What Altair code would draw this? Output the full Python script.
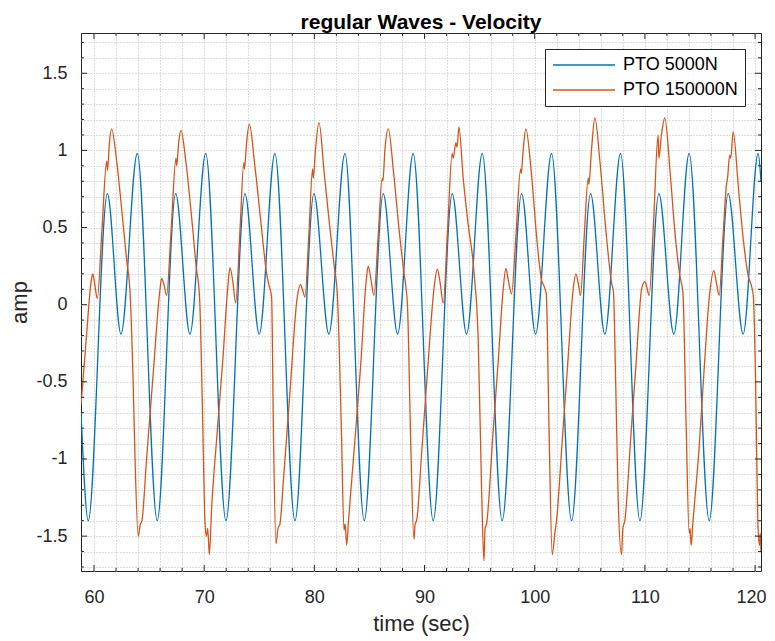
import altair as alt
import pandas as pd

# ---------------- data ----------------
series_names = ["PTO 5000N", "PTO 150000N"]
series_colors = ["#0072BD", "#D95319"]

blue_time = [58.82, 59.48,
             61.21, 62.45, 63.93, 65.74,
             67.41, 68.71, 70.14, 71.98,
             73.70, 75.00, 76.42, 78.24,
             79.96, 81.32, 82.78, 84.53,
             86.25, 87.56, 88.97, 90.79,
             92.51, 93.82, 95.24, 97.05,
             98.81, 100.08, 101.53, 103.35,
             105.07, 106.37, 107.79, 109.55,
             111.27, 112.63, 114.02, 115.84,
             117.56, 118.92, 120.28,
             120.54]
blue_amp = [-0.70, -1.40,
            0.72, -0.19, 0.98, -1.40,
            0.72, -0.19, 0.98, -1.40,
            0.72, -0.19, 0.98, -1.40,
            0.72, -0.19, 0.98, -1.40,
            0.72, -0.19, 0.98, -1.40,
            0.72, -0.19, 0.98, -1.40,
            0.72, -0.19, 0.98, -1.40,
            0.72, -0.19, 0.98, -1.40,
            0.72, -0.19, 0.98, -1.40,
            0.72, -0.19, 0.98,
            0.80]

orange_time = [
    58.82, 59.30, 59.72, 59.88, 60.05, 60.30,
    60.72, 61.15, 61.22, 61.40, 61.60, 62.06, 62.66, 63.05, 63.15, 63.27, 63.57, 63.72,
    64.02, 64.18, 64.35, 64.78, 65.38, 65.99, 66.14, 66.35, 66.59,
    67.00, 67.44, 67.50, 67.70, 67.89, 68.35, 68.95, 69.32, 69.45, 69.60, 69.85, 70.07,
    70.20, 70.32, 70.47, 70.68, 71.10, 71.70, 72.15, 72.34, 72.60, 72.86,
    73.25, 73.60, 73.66, 73.85, 74.10, 74.60, 75.20, 75.67, 75.90, 76.12, 76.30,
    76.52, 76.70, 76.88, 77.18, 77.80, 78.45, 78.75, 78.95, 79.15,
    79.50, 79.84, 79.90, 80.10, 80.42, 80.90, 81.42, 81.85, 82.08, 82.45, 82.69,
    82.80, 82.93, 83.10, 83.60, 84.20, 84.70, 84.89, 85.10, 85.41,
    85.80, 86.16, 86.22, 86.40, 86.71, 87.20, 87.70, 88.13, 88.30, 88.45, 88.75,
    89.04, 89.15, 89.28, 89.75, 90.30, 90.90, 91.16, 91.40, 91.70,
    92.10, 92.51, 92.60, 92.85, 92.95, 93.12, 93.51, 94.00, 94.42, 94.60, 94.73, 94.87,
    95.18, 95.39, 95.50, 95.63, 96.20, 96.70, 97.14, 97.39, 97.60, 97.90,
    98.30, 98.72, 98.78, 98.95, 99.20, 99.70, 100.20, 100.62, 100.85, 101.05, 101.30,
    101.59, 101.83, 101.98, 102.50, 103.00, 103.49, 103.74, 103.95, 104.16,
    104.50, 104.86, 104.92, 105.15, 105.46, 105.92, 106.50, 106.98, 107.15, 107.35, 107.58,
    107.88, 108.00, 108.18, 108.70, 109.20, 109.70, 110.00, 110.15, 110.39,
    110.80, 111.20, 111.27, 111.50, 111.81, 112.30, 112.75, 113.17, 113.45, 113.75, 114.02,
    114.10, 114.20, 114.35, 114.90, 115.35, 115.85, 116.26, 116.50, 116.74,
    117.10, 117.41, 117.50, 117.70, 117.80, 118.01, 118.50, 119.00, 119.40, 119.68, 119.85,
    120.05, 120.25, 120.40, 120.47, 120.54]
orange_amp = [
    -0.65, -0.22, 0.14, 0.20, 0.14, 0.04,
    0.48, 0.93, 0.87, 1.05, 1.14, 0.93, 0.51, 0.24, 0.19, 0.08, -0.55, -0.99,
    -1.50, -1.43, -1.40, -0.99, -0.44, 0.10, 0.17, 0.13, 0.06,
    0.48, 0.95, 0.90, 1.06, 1.13, 0.92, 0.50, 0.22, 0.16, 0.02, -0.70, -1.40,
    -1.50, -1.45, -1.62, -1.31, -0.90, -0.35, 0.12, 0.24, 0.15, 0.01,
    0.48, 0.92, 0.88, 1.05, 1.17, 0.90, 0.50, 0.20, 0.12, 0.05, -0.90,
    -1.55, -1.45, -1.42, -1.15, -0.55, 0.05, 0.13, 0.09, 0.05,
    0.45, 0.88, 0.82, 1.00, 1.18, 0.85, 0.49, 0.22, 0.08, -0.80, -1.46,
    -1.42, -1.56, -1.40, -0.95, -0.40, 0.15, 0.25, 0.18, 0.06,
    0.45, 0.82, 0.80, 1.00, 1.14, 0.85, 0.48, 0.21, 0.12, 0.00, -0.90,
    -1.52, -1.42, -1.40, -0.95, -0.40, 0.13, 0.23, 0.15, 0.01,
    0.50, 0.98, 0.95, 1.05, 1.02, 1.15, 0.82, 0.50, 0.27, 0.12, 0.00, -0.22,
    -1.20, -1.66, -1.45, -1.42, -0.85, -0.35, 0.10, 0.235, 0.16, 0.07,
    0.45, 0.88, 0.85, 1.00, 1.14, 0.85, 0.42, 0.16, 0.12, 0.07, -0.80,
    -1.62, -1.48, -1.40, -0.88, -0.38, 0.10, 0.20, 0.14, 0.06,
    0.45, 0.82, 0.78, 1.00, 1.21, 0.93, 0.45, 0.14, 0.08, -0.50, -1.27,
    -1.62, -1.45, -1.40, -0.88, -0.38, 0.10, 0.15, 0.12, 0.06,
    0.55, 1.10, 0.95, 1.10, 1.21, 0.85, 0.45, 0.19, 0.08, -0.80, -1.48,
    -1.45, -1.56, -1.42, -0.95, -0.45, 0.05, 0.22, 0.14, 0.06,
    0.45, 0.78, 0.82, 0.97, 0.95, 1.12, 0.75, 0.38, 0.18, 0.12, 0.05,
    -0.50, -1.40, -1.56, -1.48, -1.60]

x_major_ticks = [60, 70, 80, 90, 100, 110, 120]
y_major_ticks = [-1.5, -1.0, -0.5, 0.0, 0.5, 1.0, 1.5]
x_grid_values = [60 + 2 * i for i in range(31)]                # minor grid every 2 s
y_grid_values = [round(-1.7 + 0.1 * i, 1) for i in range(35)]  # minor grid every 0.1
x_minor_ticks = [v for v in x_grid_values if v not in x_major_ticks]
y_minor_ticks = [v for v in y_grid_values if round(v * 2) != v * 2]

X_DOMAIN = [58.82, 120.54]
Y_DOMAIN = [-1.726, 1.761]

# ---------------- build tables ----------------
df = pd.concat([
    pd.DataFrame({"time": blue_time, "amp": blue_amp, "series": series_names[0]}),
    pd.DataFrame({"time": orange_time, "amp": orange_amp, "series": series_names[1]}),
], ignore_index=True)

W, H = 680, 538
FONT = "Liberation Sans"
AX = "#262626"

xscale = alt.Scale(domain=X_DOMAIN, nice=False, zero=False)
yscale = alt.Scale(domain=Y_DOMAIN, nice=False, zero=False)

x_axis = alt.Axis(values=x_grid_values, grid=True, ticks=False, domain=False,
                  labelExpr="datum.value % 10 === 0 ? datum.label : ''",
                  labelOverlap=False, labelFlush=10, labelFlushOffset=11,
                  labelPadding=17, titlePadding=7)
y_axis = alt.Axis(values=y_grid_values, grid=True, ticks=False, domain=False,
                  labelExpr="abs(datum.value*2 - round(datum.value*2)) < 0.000001 ? "
                            "(datum.value < -0.0001 ? '-' : '') + format(abs(datum.value), '') : ''",
                  labelOverlap=False, labelFlush=False,
                  labelPadding=14, titlePadding=4)

lines = alt.Chart(df).mark_line(strokeWidth=1.3, interpolate="monotone", clip=True).encode(
    x=alt.X("time:Q", scale=xscale, title="time (sec)", axis=x_axis),
    y=alt.Y("amp:Q", scale=yscale, title="amp", axis=y_axis),
    color=alt.Color("series:N",
                    scale=alt.Scale(domain=series_names, range=series_colors),
                    legend=alt.Legend(title=None, orient="none", legendX=464, legendY=16,
                                      symbolType="stroke", symbolSize=3844,
                                      symbolStrokeWidth=1.3, clipHeight=18,
                                      rowPadding=7, padding=7, labelOffset=7,
                                      labelFontSize=18, labelFont=FONT, labelColor="#000000",
                                      strokeColor=AX, fillColor="white", cornerRadius=0)),
)


def xticks(values, y0, y1):
    return alt.Chart(pd.DataFrame({"time": values})).mark_rule(color=AX, strokeWidth=1).encode(
        x=alt.X("time:Q", scale=xscale, title="time (sec)", axis=x_axis),
        y=alt.value(y0), y2=alt.value(y1))


def yticks(values, x0, x1):
    return alt.Chart(pd.DataFrame({"amp": values})).mark_rule(color=AX, strokeWidth=1).encode(
        y=alt.Y("amp:Q", scale=yscale, title="amp", axis=y_axis),
        x=alt.value(x0), x2=alt.value(x1))


tick_layers = [
    xticks(x_major_ticks, H, H - 6), xticks(x_major_ticks, 0, 6),
    xticks(x_minor_ticks, H, H - 3), xticks(x_minor_ticks, 0, 3),
    yticks(y_major_ticks, 0, 6), yticks(y_major_ticks, W, W - 6),
    yticks(y_minor_ticks, 0, 3), yticks(y_minor_ticks, W, W - 3),
]

chart = alt.layer(lines, *tick_layers).properties(
    width=W, height=H,
    title=alt.TitleParams("regular Waves - Velocity", fontSize=21, fontWeight="bold",
                          font=FONT, color="#000000", anchor="middle", offset=0),
    autosize=alt.AutoSizeParams(type="none"),
    padding={"left": 73, "top": 25, "right": 6, "bottom": 70},
    background="white",
).configure_view(
    stroke=AX, strokeWidth=1
).configure_axis(
    labelFont=FONT, labelFontSize=18, labelColor=AX,
    titleFont=FONT, titleFontSize=22, titleColor=AX, titleFontWeight="normal",
    gridColor="#bdbdbd", gridDash=[1, 2], gridWidth=1, gridOpacity=1,
)

chart.save("out.html", embed_options={"renderer": "svg", "actions": False})
